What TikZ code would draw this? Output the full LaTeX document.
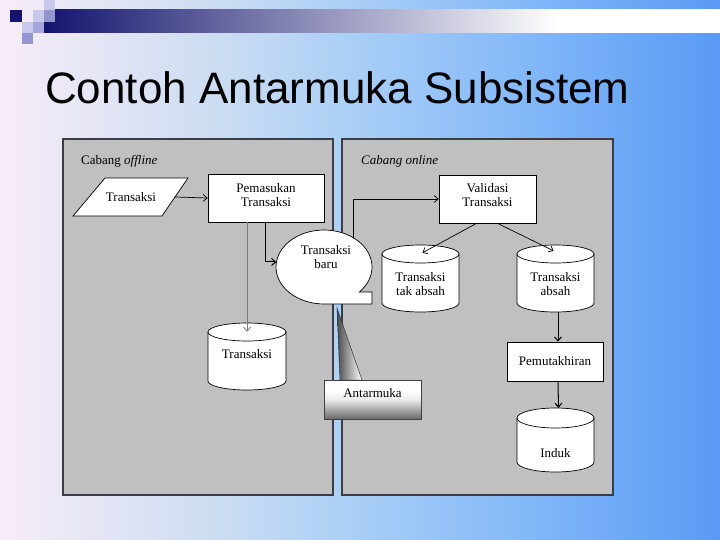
\documentclass[tikz,border=0pt]{standalone}
\usepackage{fontspec}
\setmainfont{Liberation Serif}
\newfontfamily\titlefont{Liberation Sans}
\usetikzlibrary{arrows.meta,calc,shapes.geometric}
\definecolor{bgL}{HTML}{F8ECF8}
\definecolor{bgA}{HTML}{CCDDF2}
\definecolor{bgM}{HTML}{A8CEF6}
\definecolor{bgB}{HTML}{80B6F8}
\definecolor{bgR}{HTML}{5A9AF4}
\definecolor{navy}{HTML}{14146E}
\definecolor{sqLight}{HTML}{C8C8EC}
\definecolor{sqMid}{HTML}{9494D0}
\definecolor{sqMid2}{HTML}{A6A6DC}
\definecolor{panel}{HTML}{C0C0C0}
\definecolor{panelBorder}{HTML}{3C3C44}
\definecolor{antDark}{HTML}{6A6A6A}
\definecolor{tailDark}{HTML}{4A4A4A}
\definecolor{grayline}{HTML}{7A7A7A}
\pgfdeclarehorizontalshading{bgsh}{100bp}{color(0bp)=(bgL); color(25bp)=(bgL); color(40bp)=(bgA); color(50bp)=(bgM); color(62.5bp)=(bgB); color(75bp)=(bgR); color(100bp)=(bgR)}
\pgfdeclarehorizontalshading{barsh}{100bp}{color(0bp)=(navy); color(25bp)=(navy); color(63bp)=(white); color(100bp)=(white)}
\pgfdeclareverticalshading{antsh}{100bp}{color(0bp)=(antDark); color(25bp)=(antDark); color(50bp)=(white!92!black); color(62bp)=(white); color(100bp)=(white)}
\newcommand{\drawcyl}[5]{%
  \path[cylshape] (#1,#3+#5) -- (#1,#4-#5) arc[start angle=180,end angle=0,x radius={(#2-#1)/2},y radius=#5] -- (#2,#3+#5) arc[start angle=0,end angle=-180,x radius={(#2-#1)/2},y radius=#5] -- cycle;
  \draw[line width=0.7pt] (#1,#3+#5) arc[start angle=180,end angle=0,x radius={(#2-#1)/2},y radius=#5];}
\begin{document}
\begin{tikzpicture}[x=1pt,y=-1pt,
  txt/.style={font=\fontsize{13}{14}\selectfont, align=center, inner sep=1pt},
  procbox/.style={draw=black, fill=white, line width=0.7pt, font=\fontsize{13}{14}\selectfont, align=center, inner sep=2pt},
  cylshape/.style={draw=black, fill=white, line width=0.7pt},
  cylbox/.style={rectangle, draw=none, inner sep=0pt},
  panelbox/.style={fill=panel, draw=panelBorder, line width=1.6pt},
  arr/.style={line width=0.7pt, -{Straight Barb[length=4pt,width=7pt]}},
  darkarr/.style={line width=1pt, -{Straight Barb[length=4pt,width=7pt]}},
  grayarr/.style={line width=0.8pt, draw=grayline, -{Straight Barb[length=4pt,width=7pt]}}]
\useasboundingbox (0,0) rectangle (720,540);
% background
\shade[shading=bgsh] (0,0) rectangle (720,540);
% top bar and squares
\shade[shading=barsh] (44,10) rectangle (720,33);
\fill[navy] (10,10) rectangle (22,22);
\fill[sqLight] (33,10) rectangle (44,22);
\fill[sqLight] (44,0) rectangle (55,10);
\fill[sqMid] (44,10) rectangle (55,22);
\fill[sqLight] (22,22) rectangle (33,33);
\fill[sqMid2] (33,22) rectangle (44,33);
\fill[sqMid] (22,33) rectangle (33,44);
% title
\node[anchor=base west, inner sep=0pt, font=\titlefont\fontsize{44}{50}\selectfont] (title) at (45,104) {Contoh Antarmuka Subsistem};
% panels
\path[panelbox] (63,139) rectangle (333,495);
\path[panelbox] (342,139) rectangle (613,495);
\node[txt, anchor=west] (offl) at (80,161) {Cabang \textit{offline}};
\node[txt, anchor=west] (onl) at (360,161) {\textit{Cabang online}};
% input parallelogram
\path[cylshape] (105,178) -- (188,178) -- (162,216) -- (73,216) -- cycle;
\node[txt] (trin) at (131,197) {Transaksi};
\coordinate (trinR) at (175,197);
% process boxes
\node[procbox, minimum width=116, minimum height=48, text depth=7pt] (pem) at (266,198) {Pemasukan\\Transaksi};
\node[procbox, minimum width=97, minimum height=48, text depth=8pt] (val) at (487.5,199) {Validasi\\Transaksi};
\node[procbox, minimum width=96, minimum height=39] (pmt) at (555,361.5) {Pemutakhiran};
% cylinders
\drawcyl{208}{286}{323}{390}{9}
\node[cylbox, minimum width=78, minimum height=67] (cT) at (247,356.5) {};
\node[txt] (cTt) at (247,354) {Transaksi};
\drawcyl{382}{459}{245}{312}{9}
\node[cylbox, minimum width=77, minimum height=67] (cTA) at (420.5,278.5) {};
\node[txt] (cTAt) at (420.5,284) {Transaksi\\tak absah};
\drawcyl{517}{594}{245}{312}{9}
\node[cylbox, minimum width=77, minimum height=67] (cA) at (555.5,278.5) {};
\node[txt] (cAt) at (555.5,284) {Transaksi\\absah};
\drawcyl{517}{594}{408}{472}{10}
\node[cylbox, minimum width=77, minimum height=64] (cI) at (555.5,440) {};
\node[txt] (cIt) at (555.5,453) {Induk};
% speech bubble
\path[cylshape] (324,304) arc[start angle=90, end angle=402.5, x radius=48, y radius=37] -- (372,292) -- (372,304) -- cycle;
\node[ellipse, draw=none, inner sep=0pt, minimum width=96, minimum height=74] (baru) at (324,267) {};
\node[txt] (barut) at (326,257) {Transaksi\\baru};
% Antarmuka callout
\coordinate (antTip) at (337,308);
\coordinate (antL) at (340,380);
\coordinate (antR) at (362,380);
\shade[left color=tailDark, right color=white, draw=black!80, line width=0.5pt] (antTip) -- (antR) -- (antL) -- cycle;
\node[procbox, draw=black!75, line width=0.5pt, fill=none, shading=antsh, minimum width=97, minimum height=39, text depth=13pt] (ant) at (372.5,399.5) {Antarmuka};
% connectors
\draw[arr] (trinR) -- (pem.west);
\draw[grayarr] (pem.south -| cT.north) -- ($(cT.north)+(0,9)$);
\draw[darkarr] ($(pem.south west)+(58,0)$) |- (baru.174);
\draw[arr] (baru.45) |- (val.west);
\draw[arr] ($(val.south)+(-11,0)$) -- ($(cTA.north)+(2,8)$);
\draw[arr] ($(val.south)+(10,0)$) -- ($(cA.north)+(-2,6)$);
\draw[darkarr] ($(cA.south)+(2.5,0)$) -- ($(pmt.north)+(3,0)$);
\draw[darkarr] ($(pmt.south)+(3,0)$) -- ($(cI.north)+(3,0)$);
\end{tikzpicture}
\end{document}
